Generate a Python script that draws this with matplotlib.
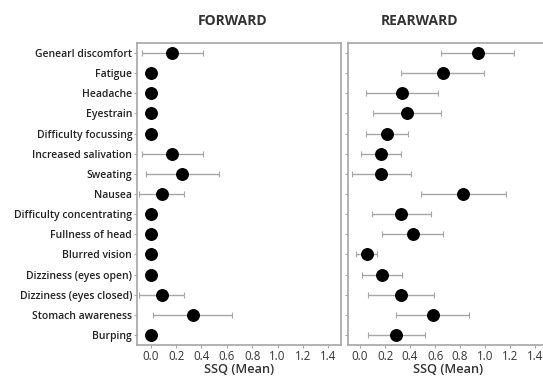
import numpy as np
import matplotlib.pyplot as plt

# symptoms, top to bottom
symptoms = ["Genearl discomfort", "Fatigue", "Headache", "Eyestrain",
            "Difficulty focussing", "Increased salivation", "Sweating", "Nausea",
            "Difficulty concentrating", "Fullness of head", "Blurred vision",
            "Dizziness (eyes open)", "Dizziness (eyes closed)", "Stomach awareness",
            "Burping"]

# forward condition: mean and error half-width
fwd_mean = [0.17, 0.0, 0.0, 0.0, 0.0, 0.17, 0.25, 0.086, 0.0, 0.0, 0.0, 0.0, 0.086, 0.33, 0.0]
fwd_err = [0.24, 0.0, 0.0, 0.0, 0.0, 0.24, 0.29, 0.18, 0.0, 0.0, 0.0, 0.0, 0.18, 0.31, 0.0]

# rearward condition
rwd_mean = [0.94, 0.66, 0.336, 0.376, 0.216, 0.17, 0.17, 0.824, 0.33, 0.42, 0.053, 0.176, 0.33, 0.58, 0.29]
rwd_err = [0.29, 0.335, 0.29, 0.27, 0.17, 0.16, 0.235, 0.34, 0.235, 0.245, 0.085, 0.16, 0.265, 0.295, 0.23]

xticks = [0.0, 0.2, 0.4, 0.6, 0.8, 1.0, 1.2, 1.4]

plt.rcParams['font.family'] = ['Open Sans', 'DejaVu Sans']

fig = plt.figure(figsize=(5.43, 3.78), dpi=100)
ax1 = fig.add_axes([137/543, 33/378, 204/543, 302/378])
ax2 = fig.add_axes([348/543, 33/378, 200/543, 302/378])

y = np.arange(len(symptoms))
grey = "#a6a6a6"

for ax, m, e, xl in [(ax1, fwd_mean, fwd_err, (-0.108, 1.5)),
                     (ax2, rwd_mean, rwd_err, (-0.096, 1.504))]:
    e = np.array(e)
    has = e > 0
    ax.errorbar(np.array(m)[has], y[has], xerr=e[has], fmt="none",
                ecolor=grey, elinewidth=1.0, capsize=2, capthick=0.8, zorder=2)
    ax.plot(m, y, "o", color="black", markersize=8.3, zorder=3)
    ax.set_xlim(*xl)
    ax.set_ylim(len(symptoms) - 0.5, -0.5)
    ax.set_yticks(y)
    ax.set_xticks(xticks)
    ax.set_xticklabels([f"{t:.1f}" for t in xticks], fontsize=8.3, color="#333333")
    ax.tick_params(axis="both", length=2.5, color=grey, width=0.8, pad=1)
    for s in ax.spines.values():
        s.set_color(grey)
        s.set_linewidth(1.2)
    ax.set_xlabel("SSQ (Mean)", fontsize=9.2, fontweight="semibold", color="#333333")
    ax.xaxis.set_label_coords(0.5, -18 / 302, transform=ax.transAxes)

ax1.set_yticklabels(symptoms, fontsize=7.5, fontweight="semibold", color="#222222")
ax2.set_yticklabels([])

fig.text(233/543, 1 - 21/378, "FORWARD", ha="center", va="center",
         fontsize=10, fontweight="bold", color="#333333")
fig.text(419/543, 1 - 21/378, "REARWARD", ha="center", va="center",
         fontsize=10, fontweight="bold", color="#333333")

plt.savefig("out.png", dpi=100)
